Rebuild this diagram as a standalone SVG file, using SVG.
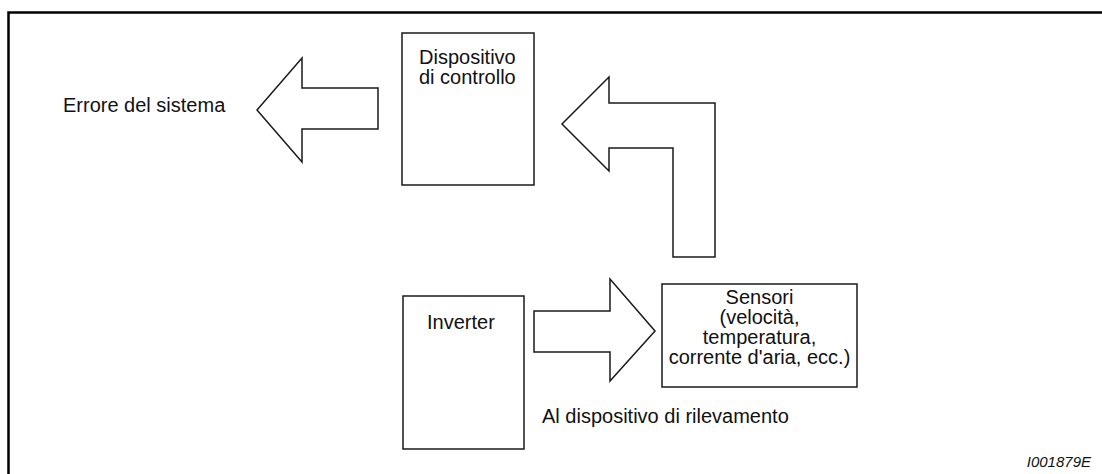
<svg xmlns="http://www.w3.org/2000/svg" width="1102" height="474" viewBox="0 0 1102 474">
  <style>
    .box { fill: #fff; stroke: #1a1a1a; stroke-width: 1.5; }
    .arrow { fill: #fff; stroke: #1a1a1a; stroke-width: 1.5; stroke-linejoin: miter; }
    .frame { fill: none; stroke: #000; stroke-width: 2.5; }
    text { font-family: "Liberation Sans", Arial, sans-serif; font-size: 20px; fill: #111; }
    .mid { text-anchor: middle; }
    .ref { font-size: 15px; font-style: italic; }
  </style>

  <!-- page frame: left and top rules -->
  <path class="frame" d="M8.5,474 V12.5 H1102"/>

  <g id="errore-label">
    <text x="63" y="112">Errore del sistema</text>
  </g>

  <g id="dispositivo-controllo">
    <rect class="box" x="402" y="33" width="132" height="152"/>
    <text x="419" y="64">Dispositivo</text>
    <text x="419" y="84">di controllo</text>
  </g>

  <g id="inverter">
    <rect class="box" x="403" y="296" width="121" height="153"/>
    <text x="427" y="329">Inverter</text>
  </g>

  <g id="sensori">
    <rect class="box" x="662" y="284" width="195" height="103"/>
    <text class="mid" x="759.5" y="304">Sensori</text>
    <text class="mid" x="759.5" y="324">(velocità,</text>
    <text class="mid" x="759.5" y="344">temperatura,</text>
    <text class="mid" x="759.5" y="364">corrente d'aria, ecc.)</text>
  </g>

  <g id="rilevamento-label">
    <text x="542" y="423">Al dispositivo di rilevamento</text>
  </g>

  <g id="connectors">
    <!-- control device to system error -->
    <path class="arrow" d="M378,88 V129 H302 V162 L257,110 L302,58 V88 Z"/>
    <!-- sensors back to control device -->
    <path class="arrow" d="M715,257 V103 H609 V77 L562,124 L609,171 V148 H673 V257 Z"/>
    <!-- inverter to sensors -->
    <path class="arrow" d="M534,311 H610 V279 L655,331 L610,381 V352 H534 Z"/>
  </g>

  <text class="ref" x="1091" y="467" text-anchor="end">I001879E</text>
</svg>
